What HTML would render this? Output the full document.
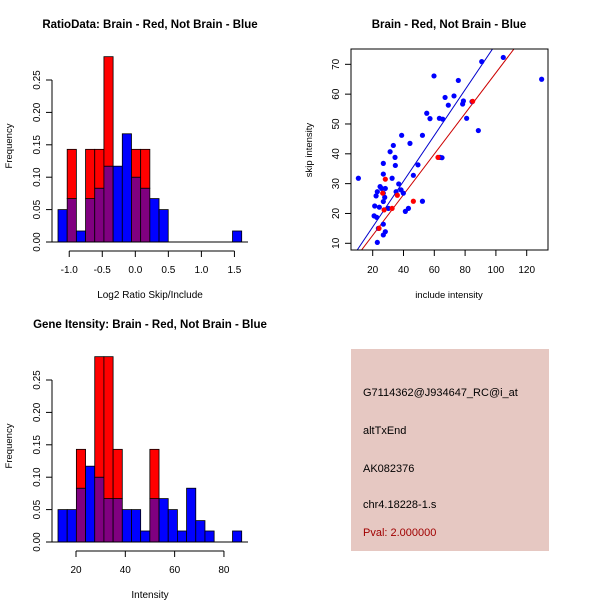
<!DOCTYPE html>
<html><head><meta charset="utf-8">
<style>
body{margin:0;background:#fff;}
svg{display:block;font-family:"Liberation Sans",sans-serif;}
</style></head>
<body>
<svg id="chart" width="600" height="600" viewBox="0 0 600 600">
<rect x="0" y="0" width="600" height="600" fill="#fff"/>
<g id="g1"></g>
<g id="g2"></g>
<g id="g3"></g>
<g>
<rect x="351" y="349" width="198" height="202" fill="#e6c8c2"/>
<text x="363" y="396" font-size="11" fill="#000">G7114362@J934647_RC@i_at</text>
<text x="363" y="434" font-size="11" fill="#000">altTxEnd</text>
<text x="363" y="472" font-size="11" fill="#000">AK082376</text>
<text x="363" y="508" font-size="11" fill="#000">chr4.18228-1.s</text>
<text x="363" y="536" font-size="11" fill="#a00000">Pval: 2.000000</text>
</g>
</svg>
<script>
// Ratio histogram data
const ratioStart = -1.17;
const ratioBinW = 0.139;
const ratioBlue = [0.05,0.067,0.017,0.067,0.083,0.117,0.117,0.167,0.10,0.083,0.067,0.05,0,0,0,0,0,0,0,0.017];
const ratioRed = [0,0.143,0,0.143,0.143,0.286,0,0,0.143,0.143,0,0,0,0,0,0,0,0,0,0];
const ratioXTicks = [-1.0,-0.5,0.0,0.5,1.0,1.5];
const ratioXLabels = ["-1.0","-0.5","0.0","0.5","1.0","1.5"];
// Intensity histogram data
const intStart = 12.7;
const intBinW = 3.725;
const intBlue = [0.05,0.05,0.083,0.117,0.10,0.067,0.067,0.05,0.05,0.017,0.067,0.067,0.05,0.017,0.083,0.033,0.017,0,0,0.017];
const intRed = [0,0,0.143,0,0.286,0.286,0.143,0,0,0,0.143,0,0,0,0,0,0,0,0,0];
const intXTicks = [20,40,60,80];
const histYTicks = [0,0.05,0.10,0.15,0.20,0.25];
const histYLabels = ["0.00","0.05","0.10","0.15","0.20","0.25"];
// Scatter data
const blueX = [10.7,20.9,22.6,21.3,23.0,24.8,25.8,24.3,26.9,26.9,28.2,26.9,26.9,22.2,23.7,23.0,26.9,26.9,28.2,27.8,30.2,31.3,33.4,34.5,34.7,32.6,35.2,36.9,38.4,38.8,39.9,41.2,43.2,44.2,46.4,49.4,52.3,52.3,55.1,57.2,59.8,63.3,65.5,65.0,63.7,67.0,69.1,72.8,75.6,78.4,78.9,81.0,84.5,88.6,90.8,104.8,129.7];
const blueY = [31.8,19.2,18.7,22.5,27.3,29.0,28.4,22.1,24.0,26.8,28.4,33.2,36.8,25.9,15.0,10.3,16.4,12.8,13.9,25.4,21.7,40.7,42.8,38.8,36.1,31.8,27.3,29.9,27.9,46.2,26.8,20.7,21.7,43.5,32.8,36.3,46.2,24.1,53.6,51.8,66.1,51.9,51.6,38.7,38.8,58.9,56.3,59.4,64.6,56.7,57.7,51.9,57.5,47.8,70.9,72.3,65.0];
const redX = [24.1,26.5,28.2,27.4,32.6,36.0,46.4,62.4,84.9];
const redY = [15.0,26.8,31.5,21.2,21.7,26.1,24.1,38.8,57.6];
const blueFit = [0.13,0.767]; // intercept, slope
const redFit = [-0.94,0.681];
const scatXTicks = [20,40,60,80,100,120];
const scatYTicks = [10,20,30,40,50,60,70];

const NS="http://www.w3.org/2000/svg";
function mk(parent,tag,attrs){const e=document.createElementNS(NS,tag);for(const k in attrs)e.setAttribute(k,attrs[k]);parent.appendChild(e);return e;}
function txt(parent,x,y,s,opts){const e=mk(parent,'text',Object.assign({x:x,y:y,'font-size':10,'text-anchor':'middle',fill:'#000'},opts||{}));e.textContent=s;return e;}

function hist(g, oy, start, bw, blue, red, xTicks, xLabels, title, xtitle){
  const x0=58, y0=242+oy, xs=(241.7-58)/(bw*20);
  const X=v=>x0+(v-start)*xs;
  const Y=v=>y0-v*648;
  const purple='#800080';
  for(let i=0;i<blue.length;i++){
    const a=start+i*bw, b=a+bw, bl=blue[i], rd=red[i];
    const lo=Math.min(bl,rd), hi=Math.max(bl,rd);
    if(hi<=0) continue;
    if(lo>0){
      const r=mk(g,'rect',{x:X(a),y:Y(lo),width:X(b)-X(a),height:Y(0)-Y(lo),fill:purple,stroke:'#000','stroke-width':0.8});
      
      
    }
    if(hi>lo){
      const r=mk(g,'rect',{x:X(a),y:Y(hi),width:X(b)-X(a),height:Y(lo)-Y(hi),fill:rd>bl?'#ff0000':'#0000ff',stroke:'#000','stroke-width':0.8});
      
      
    }
  }
  mk(g,'line',{x1:52,y1:y0,x2:248,y2:y0,stroke:'#000','stroke-width':1});
  mk(g,'line',{x1:52,y1:Y(0),x2:52,y2:Y(0.25),stroke:'#000'});
  histYTicks.forEach((t,i)=>{
    mk(g,'line',{x1:46,y1:Y(t),x2:52,y2:Y(t),stroke:'#000'});
    const e=txt(g,40,Y(t),histYLabels[i],{transform:`rotate(-90 40 ${Y(t)})`});
    
    
  });
  const ay=251+oy;
  mk(g,'line',{x1:X(xTicks[0]),y1:ay,x2:X(xTicks[xTicks.length-1]),y2:ay,stroke:'#000'});
  xTicks.forEach((t,i)=>{
    mk(g,'line',{x1:X(t),y1:ay,x2:X(t),y2:ay+6,stroke:'#000'});
    const e=txt(g,X(t),ay+22,xLabels[i]);
    
    
  });
  const t1=txt(g,150,28+oy,title,{'font-weight':'bold','font-size':11.5});
  
  
  const t2=txt(g,150,298+oy,xtitle,{'font-size':10});
  
  
  const t3=txt(g,12,146+oy,'Frequency',{'font-size':9.5,transform:`rotate(-90 12 ${146+oy})`});
  
  
}

hist(document.getElementById('g1'),0,ratioStart,ratioBinW,ratioBlue,ratioRed,ratioXTicks,ratioXLabels,'RatioData: Brain - Red, Not Brain - Blue','Log2 Ratio Skip/Include');
hist(document.getElementById('g3'),300,intStart,intBinW,intBlue,intRed,intXTicks,intXTicks.map(String),'Gene Itensity: Brain - Red, Not Brain - Blue','Intensity');

(function(){
  const g=document.getElementById('g2');
  const L=351,R=548,T=49,B=250;
  const X=v=>372.7+(v-20)*1.54;
  const Y=v=>243.3-(v-10)*2.983;
  const defs=mk(g,'clipPath',{id:'clip'});
  mk(defs,'rect',{x:L,y:T,width:R-L,height:B-T});
  const cg=mk(g,'g',{'clip-path':'url(#clip)'});
  [[blueFit,'#0000cc','blue-fit-line'],[redFit,'#cc0000','red-fit-line']].forEach(([f,c,n])=>{
    const l=mk(cg,'line',{x1:X(0),y1:Y(f[0]),x2:X(140),y2:Y(f[0]+f[1]*140),stroke:c,'stroke-width':1});
    
    
  });
  blueX.forEach((x,i)=>{
    const c=mk(cg,'circle',{cx:X(x),cy:Y(blueY[i]),r:2.6,fill:'#0000ff'});
    
    
  });
  redX.forEach((x,i)=>{
    const c=mk(cg,'circle',{cx:X(x),cy:Y(redY[i]),r:2.6,fill:'#ff0000'});
    
    
  });
  mk(g,'rect',{x:L,y:T,width:R-L,height:B-T,fill:'none',stroke:'#000'});
  scatXTicks.forEach(t=>{
    mk(g,'line',{x1:X(t),y1:B,x2:X(t),y2:B+6,stroke:'#000'});
    const e=txt(g,X(t),B+23,String(t));
    
    
  });
  scatYTicks.forEach(t=>{
    mk(g,'line',{x1:L-6,y1:Y(t),x2:L,y2:Y(t),stroke:'#000'});
    const e=txt(g,339,Y(t),String(t),{transform:`rotate(-90 339 ${Y(t)})`});
    
    
  });
  const t1=txt(g,449,28,'Brain - Red, Not Brain - Blue',{'font-weight':'bold','font-size':11.5});
  
  
  const t2=txt(g,449,298,'include intensity',{'font-size':9.5});
  
  
  const t3=txt(g,312,150,'skip intensity',{'font-size':9.5,transform:'rotate(-90 312 150)'});
  
  
})();
</script>
</body></html>
